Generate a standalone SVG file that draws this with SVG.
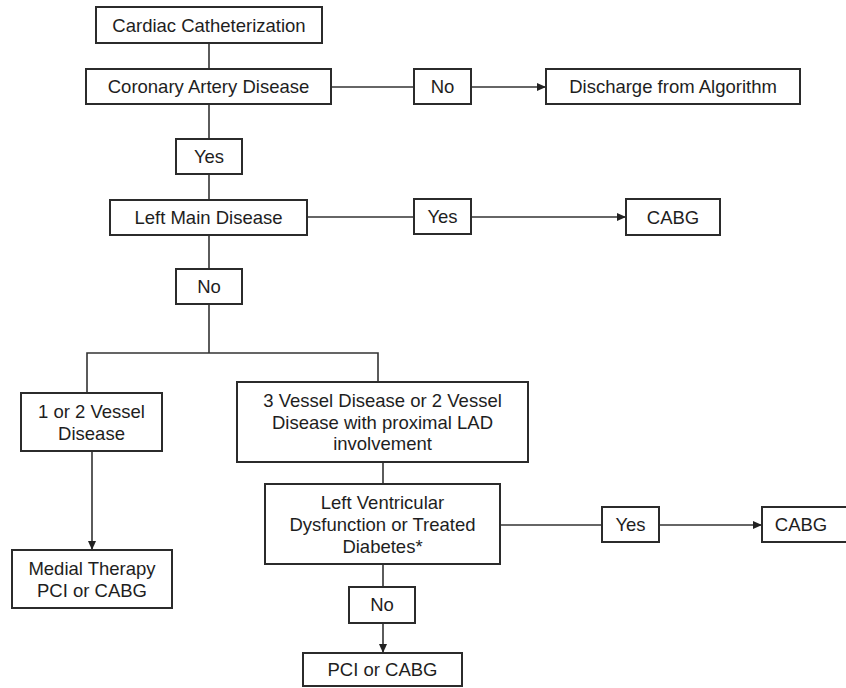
<svg xmlns="http://www.w3.org/2000/svg" width="846" height="688" viewBox="0 0 846 688">
<style>
.box{fill:#fff;stroke:#2b2b2b;stroke-width:2}
.ln{fill:none;stroke:#333;stroke-width:1.6}
text{font-family:"Liberation Sans",Arial,sans-serif;font-size:18.5px;fill:#1e1e1e;text-anchor:middle}
</style>
<defs>
<marker id="arr" markerUnits="userSpaceOnUse" markerWidth="10" markerHeight="10" refX="9" refY="4" orient="auto">
<path d="M0,0 L9,4 L0,8 z" fill="#222"/>
</marker>
</defs>
<rect width="846" height="688" fill="#fff"/>
<g id="connectors">
<path class="ln" d="M209,43 V69"/>
<path class="ln" d="M331,87 H414"/>
<path class="ln" d="M471,87 H546" marker-end="url(#arr)"/>
<path class="ln" d="M209,104 V139"/>
<path class="ln" d="M209,174 V200"/>
<path class="ln" d="M307,217 H414"/>
<path class="ln" d="M471,217 H626" marker-end="url(#arr)"/>
<path class="ln" d="M209,235 V269"/>
<path class="ln" d="M209,304 V353"/>
<path class="ln" d="M87,393 V353 H378 V382"/>
<path class="ln" d="M92,451 V550" marker-end="url(#arr)"/>
<path class="ln" d="M383,462 V484"/>
<path class="ln" d="M500,525 H602"/>
<path class="ln" d="M659,525 H762" marker-end="url(#arr)"/>
<path class="ln" d="M383,564 V587"/>
<path class="ln" d="M383,623 V653" marker-end="url(#arr)"/>
</g>
<g id="cardiac-cath"><rect class="box" x="96" y="7" width="226" height="36"/><text x="209" y="32">Cardiac Catheterization</text></g>
<g id="cad"><rect class="box" x="86" y="69" width="245" height="35"/><text x="208.5" y="93">Coronary Artery Disease</text></g>
<g id="no1"><rect class="box" x="414" y="69" width="57" height="35"/><text x="442.5" y="93">No</text></g>
<g id="discharge"><rect class="box" x="546" y="69" width="254" height="35"/><text x="673" y="93">Discharge from Algorithm</text></g>
<g id="yes1"><rect class="box" x="176" y="139" width="66" height="35"/><text x="209" y="163">Yes</text></g>
<g id="left-main"><rect class="box" x="110" y="200" width="197" height="35"/><text x="208.5" y="224">Left Main Disease</text></g>
<g id="yes2"><rect class="box" x="414" y="199" width="57" height="35"/><text x="442.5" y="223">Yes</text></g>
<g id="cabg1"><rect class="box" x="626" y="199" width="94" height="36"/><text x="673" y="224">CABG</text></g>
<g id="no2"><rect class="box" x="176" y="269" width="66" height="35"/><text x="209" y="293">No</text></g>
<g id="one-two-vessel"><rect class="box" x="21" y="393" width="141" height="58"/><text x="91.5" y="418">1 or 2 Vessel</text><text x="91.5" y="440">Disease</text></g>
<g id="three-vessel"><rect class="box" x="237" y="382" width="291" height="80"/><text x="382.5" y="407">3 Vessel Disease or 2 Vessel</text><text x="382.5" y="428.5">Disease with proximal LAD</text><text x="382.5" y="450">involvement</text></g>
<g id="lv-dysfunction"><rect class="box" x="265" y="484" width="235" height="80"/><text x="382.5" y="509">Left Ventricular</text><text x="382.5" y="531">Dysfunction or Treated</text><text x="382.5" y="553">Diabetes*</text></g>
<g id="yes3"><rect class="box" x="602" y="507" width="57" height="35"/><text x="630.5" y="531">Yes</text></g>
<g id="cabg2"><rect class="box" x="762" y="507" width="90" height="35"/><text x="801" y="531">CABG</text></g>
<g id="no3"><rect class="box" x="349" y="587" width="66" height="36"/><text x="382" y="611">No</text></g>
<g id="medial-therapy"><rect class="box" x="12" y="550" width="160" height="58"/><text x="92" y="575">Medial Therapy</text><text x="92" y="597">PCI or CABG</text></g>
<g id="pci-cabg"><rect class="box" x="303" y="653" width="159" height="33"/><text x="382.5" y="676">PCI or CABG</text></g>
</svg>
